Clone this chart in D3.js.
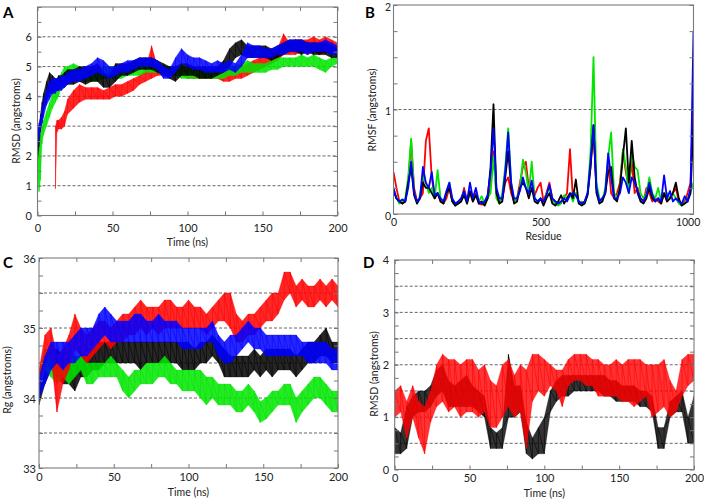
<!DOCTYPE html>
<html><head><meta charset="utf-8">
<script src="https://cdn.jsdelivr.net/npm/d3@7"></script>
<style>
body{margin:0;background:#fff;}
text{font-family:Lato,"Open Sans",sans-serif;fill:#222;}
</style>
</head><body>
<svg id="c" width="704" height="499"></svg>
<script>
// ---------------- Panel A: backbone RMSD (lo/hi envelope of each trace) ----------------
const timeA = [0,1,2,3,4,6,8,10,12,13,14,16,18,20,
  24,28,32,36,40,44,48,52,56,60, 64,68,72,76,80,84,88,92,96,100,
  104,108,112,116,120,124,128,132,136,140, 144,148,152,156,160,164,168,172,176,180, 184,188,192,196,200];
const aBlackLo = [1.8,2.3,2.8,3.1,3.5,3.8,4.1,4.1,4.2,4.2,4.2,4.3,4.3,4.4,
  4.4,4.5,4.4,4.5,4.5,4.3,4.3,4.5,4.7,4.7, 4.8,4.9,4.9,4.9,4.8,4.7,4.6,4.5,4.7,4.7,
  4.7,4.6,4.6,4.6,4.7,4.8,5.0,5.3,5.4,5.3, 5.3,5.3,5.3,5.2,5.3,5.4,5.5,5.5,5.4,5.5, 5.4,5.4,5.4,5.3,5.3];
const aBlackHi = [2.4,3.0,3.4,3.8,4.1,4.5,4.8,4.7,4.6,4.6,4.7,4.7,4.8,4.9,
  4.9,5.0,5.0,5.0,5.1,4.8,4.7,5.1,5.1,5.1, 5.2,5.3,5.3,5.3,5.2,5.1,5.0,5.0,5.1,5.1,
  5.0,5.0,5.0,5.0,5.0,5.2,5.6,5.8,5.9,5.7, 5.7,5.7,5.7,5.6,5.7,5.8,5.9,5.9,5.9,5.8, 5.8,5.8,5.8,5.7,5.6];
const aRedLo = [null,null,null,null,null,null,null,null,0.9,2.8,2.9,2.9,3.0,3.4,
  3.6,3.8,3.9,3.9,3.9,3.9,3.9,4.0,4.0,4.1, 4.2,4.4,4.5,4.6,4.7,4.7,4.7,4.7,4.7,4.6,
  4.6,4.6,4.6,4.6,4.6,4.5,4.5,4.6,4.6,4.7, 4.8,4.9,5.0,5.1,5.2,5.4,5.4,5.4,5.5,5.4, 5.5,5.4,5.5,5.4,5.5];
const aRedHi = [null,null,null,null,null,null,null,null,3.0,3.2,3.2,3.3,3.5,3.9,
  4.2,4.4,4.3,4.3,4.3,4.2,4.3,4.4,4.4,4.5, 4.6,4.7,4.9,5.7,5.0,5.0,5.0,5.0,5.0,5.0,
  5.0,4.9,4.9,4.9,5.0,4.9,4.9,5.0,5.0,5.1, 5.2,5.3,5.4,5.5,5.6,6.1,5.8,5.9,5.9,5.9, 6.0,5.9,6.0,5.9,5.8];
const aGreenLo = [1.5,0.8,1.2,2.4,2.7,3.0,3.3,3.6,3.8,3.9,4.0,4.3,4.5,4.5,
  4.6,4.5,4.5,4.5,4.5,4.6,4.6,4.6,4.6,4.7, 4.7,4.7,4.8,4.8,4.8,4.7,4.7,4.7,4.6,4.6,
  4.6,4.6,4.6,4.6,4.6,4.6,4.7,4.7,4.8,4.8, 4.8,4.8,4.8,4.9,4.9,5.0,5.0,5.0,5.0,5.0, 5.0,4.9,4.8,5.0,5.1];
const aGreenHi = [2.3,2.5,2.7,3.0,3.2,3.5,3.8,4.1,4.3,4.4,4.6,4.8,5.0,5.0,
  5.1,5.0,4.9,4.9,4.9,5.0,5.0,5.0,5.0,5.0, 5.1,5.1,5.1,5.2,5.1,5.0,5.0,5.0,5.0,5.0,
  4.9,4.9,4.9,4.9,4.9,5.0,5.0,5.0,5.1,5.2, 5.1,5.1,5.1,5.2,5.3,5.3,5.3,5.3,5.4,5.3, 5.4,5.3,5.2,5.3,5.4];
const aBlueLo = [2.2,2.6,2.9,3.1,3.3,3.7,3.9,4.1,4.1,4.2,4.2,4.2,4.3,4.4,
  4.5,4.5,4.6,4.7,4.8,4.7,4.6,4.7,4.8,4.8, 4.9,5.0,5.0,5.0,4.9,4.6,4.6,4.8,5.1,5.0,
  4.9,4.9,4.8,4.8,4.8,4.8,4.9,4.8,5.0,5.3, 5.3,5.3,5.3,5.3,5.4,5.4,5.5,5.5,5.5,5.4, 5.5,5.5,5.5,5.4,5.4];
const aBlueHi = [2.8,3.1,3.3,3.6,3.9,4.2,4.5,4.6,4.6,4.6,4.6,4.7,4.7,4.8,
  4.9,4.9,5.0,5.1,5.3,5.2,5.0,5.0,5.1,5.2, 5.2,5.3,5.3,5.3,5.2,5.0,4.9,5.3,5.6,5.4,
  5.3,5.3,5.2,5.1,5.2,5.1,5.2,5.1,5.4,5.8, 5.7,5.7,5.6,5.6,5.7,5.8,5.9,5.9,5.9,5.8, 5.8,5.8,5.9,5.8,5.7];

// ---------------- Panel B: RMSF per residue (every 10 residues, 0..1020) ----------------
const residues = d3.range(0, 1021, 10);
const bRed = [0.40,0.25,0.12,0.10,0.12,0.30,0.70,0.25,0.12,0.15, 0.20,0.70,0.82,0.35,0.15,0.20,0.12,0.10,0.15,0.25,
  0.12,0.09,0.10,0.12,0.25,0.12,0.20,0.12,0.20,0.10, 0.09,0.10,0.15,0.25,0.60,0.20,0.12,0.15,0.30,0.35,
  0.20,0.12,0.15,0.30,0.45,0.50,0.25,0.30,0.18,0.25, 0.30,0.12,0.20,0.30,0.15,0.12,0.10,0.12,0.15,0.20,
  0.62,0.15,0.20,0.12,0.10,0.12,0.20,0.45,0.80,0.25, 0.12,0.15,0.20,0.50,0.20,0.15,0.20,0.30,0.60,0.40,
  0.25,0.50,0.20,0.25,0.15,0.12,0.25,0.20,0.12,0.15, 0.12,0.10,0.20,0.12,0.15,0.20,0.25,0.12,0.10,0.12,
  0.20,0.30,1.15];
const bGreen = [0.25,0.15,0.10,0.12,0.15,0.35,0.72,0.20,0.10,0.18, 0.35,0.30,0.20,0.25,0.15,0.42,0.15,0.10,0.20,0.30,
  0.12,0.08,0.10,0.15,0.22,0.10,0.20,0.15,0.18,0.12, 0.17,0.10,0.15,0.20,0.55,0.15,0.10,0.20,0.45,0.82,
  0.30,0.12,0.15,0.25,0.52,0.40,0.20,0.50,0.15,0.12, 0.15,0.10,0.20,0.25,0.12,0.10,0.08,0.10,0.18,0.15,
  0.20,0.12,0.20,0.10,0.12,0.10,0.20,0.60,1.50,0.30, 0.15,0.12,0.25,0.55,0.78,0.20,0.15,0.25,0.62,0.45,
  0.20,0.60,0.45,0.42,0.20,0.15,0.20,0.35,0.20,0.15, 0.25,0.12,0.18,0.20,0.15,0.20,0.15,0.10,0.08,0.10,
  0.15,0.22,0.30];
const bBlack = [0.22,0.15,0.12,0.10,0.12,0.30,0.45,0.18,0.10,0.15, 0.30,0.25,0.25,0.20,0.15,0.20,0.12,0.10,0.20,0.25,
  0.12,0.08,0.10,0.12,0.18,0.10,0.22,0.12,0.18,0.10, 0.12,0.08,0.15,0.45,1.05,0.20,0.10,0.12,0.35,0.60,
  0.25,0.10,0.12,0.25,0.30,0.25,0.15,0.25,0.12,0.10, 0.15,0.08,0.15,0.20,0.10,0.08,0.12,0.18,0.10,0.15,
  0.20,0.15,0.33,0.10,0.08,0.10,0.18,0.45,0.85,0.20, 0.10,0.12,0.20,0.40,0.45,0.15,0.12,0.25,0.55,0.82,
  0.30,0.70,0.35,0.20,0.12,0.10,0.15,0.25,0.15,0.12, 0.15,0.10,0.20,0.12,0.15,0.20,0.30,0.15,0.08,0.10,
  0.12,0.20,0.90];
const bBlue = [0.25,0.15,0.12,0.14,0.12,0.25,0.50,0.20,0.12,0.15, 0.45,0.30,0.25,0.40,0.18,0.20,0.15,0.12,0.22,0.30,
  0.15,0.10,0.12,0.15,0.22,0.12,0.30,0.15,0.25,0.12, 0.10,0.12,0.18,0.40,0.82,0.25,0.15,0.15,0.40,0.78,
  0.30,0.15,0.15,0.22,0.35,0.25,0.20,0.32,0.15,0.12, 0.15,0.12,0.18,0.28,0.15,0.12,0.10,0.12,0.15,0.12,
  0.18,0.20,0.18,0.12,0.10,0.12,0.20,0.50,0.85,0.25, 0.12,0.15,0.20,0.58,0.35,0.15,0.15,0.20,0.35,0.30,
  0.20,0.35,0.30,0.22,0.15,0.12,0.18,0.30,0.18,0.12, 0.15,0.12,0.37,0.15,0.22,0.12,0.15,0.12,0.10,0.17,
  0.12,0.25,1.75];

// ---------------- Panel C: radius of gyration (every 4 ns) ----------------
const timeC = d3.range(0, 201, 4);
const cBlackLo = [33.9,34.2,34.4,34.3,34.2,34.2,34.1,34.3,34.3,34.4, 34.4,34.5,34.5,34.5,34.5,34.5,34.5,34.4,34.5,34.5,
  34.5,34.5,34.5,34.5,34.4,34.4,34.4,34.5,34.5,34.6, 34.5,34.3,34.3,34.3,34.3,34.3,34.4,34.3,34.4,34.3,
  34.4,34.4,34.4,34.3,34.4,34.5,34.5,34.6,34.6,34.5, 34.5];
const cBlackHi = [34.3,34.6,34.7,34.7,34.6,34.5,34.5,34.6,34.7,34.7, 34.8,34.8,34.8,34.8,34.8,34.8,34.8,34.8,34.8,34.8,
  34.8,34.8,34.8,34.8,34.8,34.8,34.7,34.8,34.8,34.9, 34.8,34.7,34.6,34.6,34.6,34.6,34.7,34.6,34.7,34.7,
  34.7,34.7,34.7,34.6,34.7,34.8,34.8,34.9,35.0,34.8, 34.8];
const cGreenLo = [34.1,34.4,34.3,34.2,34.3,34.2,34.3,34.4,34.2,34.2, 34.3,34.3,34.3,34.3,34.1,34.0,34.1,34.2,34.2,34.2,
  34.3,34.3,34.2,34.2,34.1,34.1,34.1,34.0,33.9,34.0, 33.9,33.9,33.9,33.8,33.8,33.9,33.8,33.65,33.7,33.8,
  33.9,33.9,33.9,33.65,33.8,33.9,34.0,34.0,33.9,33.8, 33.8];
const cGreenHi = [34.4,34.7,34.7,34.6,34.7,34.6,34.6,34.6,34.5,34.5, 34.5,34.5,34.6,34.5,34.4,34.3,34.4,34.4,34.5,34.5,
  34.5,34.6,34.5,34.4,34.4,34.4,34.4,34.4,34.3,34.3, 34.2,34.2,34.2,34.1,34.1,34.2,34.1,33.95,34.0,34.1,
  34.1,34.2,34.2,34.0,34.1,34.2,34.3,34.3,34.2,34.1, 34.1];
const cRedLo = [34.1,34.5,34.6,33.8,34.2,34.4,34.7,34.6,34.5,34.6, 34.7,34.8,34.7,34.8,34.8,34.9,34.9,35.0,34.9,35.0,
  34.9,35.0,35.0,35.0,35.0,35.0,35.0,35.0,34.9,35.0, 35.1,35.1,35.0,34.8,34.8,34.9,34.9,35.0,35.1,35.1,
  35.2,35.4,35.5,35.3,35.4,35.3,35.3,35.4,35.3,35.4, 35.3];
const cRedHi = [34.4,34.9,35.0,34.6,34.7,34.9,35.2,35.0,34.9,35.0, 35.1,35.1,35.0,35.1,35.2,35.2,35.3,35.4,35.3,35.3,
  35.3,35.4,35.4,35.3,35.3,35.4,35.3,35.3,35.2,35.3, 35.4,35.5,35.5,35.2,35.1,35.2,35.2,35.3,35.4,35.5,
  35.5,35.8,35.8,35.6,35.7,35.6,35.6,35.7,35.6,35.7, 35.6];
const cBlueLo = [34.0,34.2,34.4,34.5,34.4,34.5,34.5,34.6,34.6,34.7, 34.8,34.9,34.8,34.8,34.8,34.8,34.8,34.8,34.8,34.8,
  34.8,34.8,34.8,34.8,34.7,34.7,34.7,34.7,34.8,34.8, 34.6,34.5,34.5,34.6,34.7,34.8,34.7,34.7,34.6,34.6,
  34.6,34.6,34.6,34.6,34.6,34.5,34.5,34.5,34.5,34.4, 34.4];
const cBlueHi = [34.3,34.6,34.8,34.8,34.8,34.8,34.9,35.0,35.0,35.0, 35.2,35.3,35.2,35.1,35.1,35.1,35.2,35.2,35.1,35.1,
  35.2,35.1,35.1,35.1,35.0,35.0,35.0,35.0,35.0,35.1, 34.9,34.8,34.9,34.9,35.0,35.1,35.0,35.0,34.9,34.9,
  34.9,34.9,34.9,34.9,34.8,34.8,34.8,34.8,34.8,34.7, 34.7];

// ---------------- Panel D: RMSD (every 4 ns) ----------------
const timeD = d3.range(0, 201, 4);
const dBlackLo = [0.3,0.3,0.4,1.0,1.1,1.1,1.2,1.4,1.5,1.2, 1.2,1.2,1.2,1.2,1.1,1.0,0.4,0.4,0.4,1.0,
  1.0,1.1,0.3,0.2,0.3,0.3,1.1,1.3,1.4,1.4, 1.5,1.5,1.5,1.5,1.5,1.4,1.4,1.3,1.3,1.3,
  1.3,1.2,1.2,1.1,0.4,0.4,1.0,1.1,1.1,0.5, 0.5];
const dBlackHi = [0.8,0.7,1.2,1.4,1.5,1.5,1.6,1.9,2.0,1.7, 1.6,1.7,1.8,1.6,1.5,1.4,0.8,0.7,0.8,2.2,
  1.6,1.6,0.9,0.6,0.8,1.0,1.5,1.7,1.8,1.8, 1.8,1.8,1.8,1.8,1.8,1.8,1.7,1.7,1.6,1.6,
  1.6,1.5,1.5,1.4,0.8,0.8,1.3,1.4,1.5,1.0, 1.4];
const dRedLo = [1.0,1.1,0.6,1.0,0.6,0.3,0.9,1.2,1.3,1.1, 1.2,1.0,1.1,1.1,1.0,1.1,0.8,0.8,1.0,1.2,
  1.0,1.1,0.4,1.3,1.5,1.4,1.6,1.5,1.2,1.6, 1.7,1.7,1.6,1.6,1.4,1.4,1.4,1.4,1.3,1.3,
  1.2,1.3,1.4,1.0,1.1,1.2,1.0,1.1,1.4,1.6, 1.7];
const dRedHi = [1.5,1.6,1.3,1.6,1.3,1.2,1.5,2.0,2.2,2.1, 2.1,2.0,2.1,2.1,1.9,2.0,1.7,1.6,2.0,2.1,
  1.8,2.0,1.9,2.2,2.2,2.1,2.0,1.9,1.9,2.1, 2.2,2.2,2.2,2.1,2.1,2.0,2.0,2.1,2.0,2.1,
  2.1,2.1,2.0,2.0,2.0,2.1,1.7,1.5,2.1,2.2, 2.2];

const COL = {black:"#000000", red:"#ff0000", green:"#00e600", blue:"#0000ff"};
const FONT = "Lato, 'Open Sans', sans-serif";

const svg = d3.select("#c");
const defs = svg.append("defs");

function makePanel(o){
  const x = d3.scaleLinear().domain(o.xd).range([o.x0, o.x1]);
  const y = d3.scaleLinear().domain(o.yd).range([o.y1, o.y0]);
  const g = svg.append("g");
  defs.append("clipPath").attr("id","clip"+o.letter).append("rect")
    .attr("x",o.x0).attr("y",o.y0).attr("width",o.x1-o.x0).attr("height",o.y1-o.y0);
  g.selectAll("line.grid").data(o.grid).join("line").attr("class","grid")
    .attr("x1",o.x0).attr("x2",o.x1).attr("y1",d=>y(d)).attr("y2",d=>y(d))
    .attr("stroke","#555").attr("stroke-width",0.9).attr("stroke-dasharray","3,2");
  const plot = g.append("g").attr("clip-path","url(#clip"+o.letter+")");
  return {o,x,y,g,plot};
}

function finishPanel(p){
  const o = p.o, g = p.g, x = p.x, y = p.y;
  const tickStyle = sel => { sel.select(".domain").remove(); sel.selectAll("line").attr("stroke","#777"); };
  g.append("g").attr("transform",`translate(${o.x0},0)`).call(d3.axisRight(y).tickValues(o.yTicks).tickSize(4).tickFormat("")).call(tickStyle);
  g.append("g").attr("transform",`translate(${o.x1},0)`).call(d3.axisLeft(y).tickValues(o.yTicks).tickSize(4).tickFormat("")).call(tickStyle);
  if(o.xTicks.length){
    g.append("g").attr("transform",`translate(0,${o.y1})`).call(d3.axisTop(x).tickValues(o.xTicks).tickSize(4).tickFormat("")).call(tickStyle);
    g.append("g").attr("transform",`translate(0,${o.y0})`).call(d3.axisBottom(x).tickValues(o.xTicks).tickSize(4).tickFormat("")).call(tickStyle);
  }
  g.append("rect").attr("x",o.x0).attr("y",o.y0).attr("width",o.x1-o.x0).attr("height",o.y1-o.y0)
    .attr("fill","none").attr("stroke","#7a7a7a").attr("stroke-width",1.1);
  const yl = g.append("g").attr("transform",`translate(${o.x0},0)`)
    .call(d3.axisLeft(y).tickValues(o.yLabels).tickSize(0).tickPadding(o.yPad).tickFormat(d3.format("d")));
  yl.select(".domain").remove();
  yl.selectAll("text").attr("font-family",FONT).attr("font-size",o.fs).attr("fill","#222").attr("dy",o.yDy||"0.34em");
  const xl = g.append("g").attr("transform",`translate(0,${o.y1})`)
    .call(d3.axisBottom(x).tickValues(o.xLabels).tickSize(0).tickPadding(o.xPad).tickFormat(d3.format("d")));
  xl.select(".domain").remove();
  xl.selectAll("text").attr("font-family",FONT).attr("font-size",o.fs).attr("fill","#222");
  g.append("text").attr("x",(o.x0+o.x1)/2).attr("y",o.xTitleY).attr("text-anchor","middle")
    .attr("font-size",10.5).text(o.xTitle);
  g.append("text").attr("transform",`translate(${o.yTitleX},${o.yTitleY}) rotate(-90)`).attr("text-anchor","middle")
    .attr("font-size",10.5).text(o.yTitle);
  g.append("text").attr("x",o.letterX).attr("y",o.letterY).attr("font-family","'Liberation Sans', Arial, sans-serif")
    .attr("font-weight","bold").attr("font-size",15).style("fill","#000").text(o.letter);
}

function band(p, t, lo, hi, color, op, sw){
  const pts = t.map((d,i)=>({t:d, lo:lo[i], hi:hi[i]})).filter(d=>d.lo!=null && d.hi!=null);
  p.plot.append("path").datum(pts)
    .attr("d", d3.area().x(d=>p.x(d.t)).y0(d=>p.y(d.lo)).y1(d=>p.y(d.hi)))
    .attr("fill", color).attr("fill-opacity", op).attr("stroke", color).attr("stroke-width", 0.5).attr("stroke-opacity", 0.6);
  const zz = [];
  pts.forEach(d=>{ zz.push([p.x(d.t), p.y(d.lo)]); zz.push([p.x(d.t), p.y(d.hi)]); });
  p.plot.append("path").attr("d", d3.line()(zz)).attr("fill","none")
    .attr("stroke", color).attr("stroke-width", sw||0.55);
}

function line(p, t, v, color, w){
  const pts = t.map((d,i)=>[d, v[i]]).filter(d=>d[1]!=null);
  p.plot.append("path").datum(pts).attr("d", d3.line().x(d=>p.x(d[0])).y(d=>p.y(d[1])))
    .attr("fill","none").attr("stroke",color).attr("stroke-width",w).attr("stroke-linejoin","round");
}

const step = (a,b,s)=>d3.range(a, b+s/2, s);

// Panel A
const pA = makePanel({letter:"A", x0:37.5, x1:337.5, y0:7, y1:215.5, xd:[0,200], yd:[0,7], grid:[1,2,3,4,5,6]});
Object.assign(pA.o, {xTicks:step(0,200,25), yTicks:step(0,7,0.5), yLabels:[0,1,2,3,4,5,6], xLabels:[0,50,100,150,200],
  yPad:5.5, xPad:8.5, fs:11, xTitle:"Time (ns)", xTitleY:245.5, yTitle:"RMSD (angstroms)", yTitleX:20, yTitleY:121, letterX:3, letterY:18});
band(pA, timeA, aRedLo, aRedHi, COL.red, 0.85);
band(pA, timeA, aGreenLo, aGreenHi, COL.green, 0.85);
band(pA, timeA, aBlackLo, aBlackHi, COL.black, 0.85);
band(pA, timeA, aBlueLo, aBlueHi, COL.blue, 0.85);
finishPanel(pA);

// Panel B
const pB = makePanel({letter:"B", x0:393.5, x1:693.5, y0:5, y1:214, xd:[0,1020], yd:[0,2], grid:[1]});
Object.assign(pB.o, {xTicks:[], yTicks:step(0,2,0.25), yLabels:[0,1,2], xLabels:[0,500,1000],
  yPad:2.5, xPad:4.5, fs:10.5, yDy:"0.5em", xTitle:"Residue", xTitleY:240, yTitle:"RMSF (angstroms)", yTitleX:376, yTitleY:110, letterX:365, letterY:18});
line(pB, residues, bRed, COL.red, 1.8);
line(pB, residues, bGreen, COL.green, 1.8);
line(pB, residues, bBlack, COL.black, 1.8);
line(pB, residues, bBlue, COL.blue, 1.8);
finishPanel(pB);

// Panel C
const pC = makePanel({letter:"C", x0:39, x1:338, y0:258, y1:468, xd:[0,200], yd:[33,36], grid:[33.5,34,34.5,35,35.5]});
Object.assign(pC.o, {xTicks:step(0,200,25), yTicks:step(33,36,0.25), yLabels:[33,34,35,36], xLabels:[0,50,100,150,200],
  yPad:3, xPad:5, fs:11, yDy:"0.45em", xTitle:"Time (ns)", xTitleY:495.5, yTitle:"Rg (angstroms)", yTitleX:11, yTitleY:380, letterX:3, letterY:268});
band(pC, timeC, cBlackLo, cBlackHi, COL.black, 0.85);
band(pC, timeC, cGreenLo, cGreenHi, COL.green, 0.85);
band(pC, timeC, cRedLo, cRedHi, COL.red, 0.85);
band(pC, timeC, cBlueLo, cBlueHi, COL.blue, 0.85);
finishPanel(pC);

// Panel D
const pD = makePanel({letter:"D", x0:394.7, x1:694, y0:260, y1:469.5, xd:[0,200], yd:[0,4], grid:[0.5,1,1.5,2,2.5,3,3.5]});
Object.assign(pD.o, {xTicks:step(0,200,25), yTicks:step(0,4,0.25), yLabels:[0,1,2,3,4], xLabels:[0,50,100,150,200],
  yPad:5.5, xPad:4.5, fs:11, xTitle:"Time (ns)", xTitleY:497, yTitle:"RMSD (angstroms)", yTitleX:377.5, yTitleY:374, letterX:363, letterY:268});
band(pD, timeD, dBlackLo, dBlackHi, COL.black, 0.8);
band(pD, timeD, dRedLo, dRedHi, COL.red, 0.8, 0.6);
finishPanel(pD);
</script>
</body></html>
